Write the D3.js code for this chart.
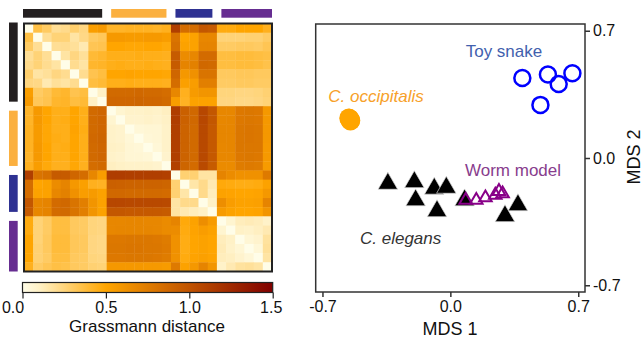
<!DOCTYPE html>
<html>
<head>
<meta charset="utf-8">
<script src="https://cdn.jsdelivr.net/npm/d3@7"></script>
<style>
    body { margin: 0; background: #fff; }
    svg { display: block; font-family: Arial, "Liberation Sans", Helvetica, sans-serif; }
</style>
</head>
<body>
<svg id="chart" width="644" height="339"></svg>
<script>
(function () {
    'use strict';

    // groups along the distance matrix
    var groupNames = ['C. elegans', 'C. occipitalis', 'Toy snake', 'Worm model'];
    var groupSizes = [9, 7, 5, 6];
    var groupColors = ['#231f20', '#fbb040', '#2e3192', '#662d91'];

    // upper triangle of the Grassmann distance matrix, row i holds columns i+1..26
    var distUpper = [
        [0.36, 0.30, 0.20, 0.22, 0.28, 0.24, 0.54, 0.57, 0.42, 0.42, 0.43, 0.43, 0.43, 0.42, 0.44, 1.12, 0.84, 0.84, 0.97, 0.95, 0.47, 0.47, 0.50, 0.50, 0.50, 0.44],
        [0.20, 0.26, 0.26, 0.17, 0.23, 0.30, 0.32, 0.57, 0.57, 0.56, 0.56, 0.57, 0.57, 0.55, 0.80, 0.50, 0.52, 0.68, 0.68, 0.26, 0.26, 0.26, 0.27, 0.27, 0.30],
        [0.20, 0.21, 0.19, 0.14, 0.33, 0.34, 0.50, 0.50, 0.49, 0.49, 0.50, 0.50, 0.48, 0.82, 0.52, 0.52, 0.70, 0.70, 0.30, 0.30, 0.31, 0.31, 0.30, 0.33],
        [0.17, 0.24, 0.19, 0.39, 0.41, 0.45, 0.45, 0.45, 0.46, 0.45, 0.45, 0.44, 0.95, 0.65, 0.68, 0.85, 0.85, 0.37, 0.37, 0.38, 0.38, 0.37, 0.36],
        [0.21, 0.17, 0.41, 0.42, 0.45, 0.46, 0.45, 0.45, 0.46, 0.45, 0.44, 0.95, 0.70, 0.72, 0.87, 0.86, 0.37, 0.37, 0.38, 0.38, 0.37, 0.35],
        [0.21, 0.34, 0.37, 0.50, 0.50, 0.51, 0.50, 0.50, 0.50, 0.49, 0.88, 0.58, 0.62, 0.80, 0.80, 0.31, 0.31, 0.32, 0.32, 0.31, 0.31],
        [0.37, 0.39, 0.45, 0.45, 0.46, 0.45, 0.45, 0.45, 0.44, 0.84, 0.53, 0.55, 0.73, 0.73, 0.30, 0.30, 0.31, 0.31, 0.30, 0.30],
        [0.10, 0.86, 0.86, 0.86, 0.87, 0.86, 0.86, 0.84, 0.68, 0.44, 0.56, 0.60, 0.60, 0.25, 0.25, 0.24, 0.24, 0.25, 0.27],
        [0.88, 0.88, 0.88, 0.89, 0.88, 0.88, 0.86, 0.55, 0.43, 0.52, 0.52, 0.52, 0.24, 0.24, 0.23, 0.23, 0.24, 0.26],
        [0.07, 0.09, 0.09, 0.10, 0.09, 0.11, 1.13, 0.92, 0.87, 1.07, 0.97, 0.68, 0.68, 0.77, 0.78, 0.77, 0.58],
        [0.08, 0.08, 0.09, 0.08, 0.10, 1.13, 0.91, 0.87, 1.07, 0.97, 0.68, 0.69, 0.77, 0.78, 0.77, 0.58],
        [0.05, 0.06, 0.06, 0.09, 1.12, 0.90, 0.86, 1.06, 0.96, 0.69, 0.69, 0.78, 0.79, 0.78, 0.58],
        [0.05, 0.06, 0.09, 1.12, 0.90, 0.86, 1.06, 0.96, 0.69, 0.69, 0.78, 0.79, 0.78, 0.58],
        [0.05, 0.09, 1.12, 0.90, 0.86, 1.06, 0.96, 0.68, 0.69, 0.78, 0.78, 0.78, 0.57],
        [0.08, 1.12, 0.90, 0.86, 1.06, 0.96, 0.68, 0.68, 0.77, 0.78, 0.77, 0.57],
        [1.11, 0.89, 0.85, 1.05, 0.95, 0.66, 0.66, 0.75, 0.76, 0.75, 0.56],
        [0.27, 0.27, 0.17, 0.17, 0.70, 0.65, 0.62, 0.62, 0.62, 0.76],
        [0.16, 0.22, 0.14, 0.48, 0.47, 0.46, 0.46, 0.47, 0.52],
        [0.22, 0.12, 0.52, 0.51, 0.50, 0.50, 0.51, 0.58],
        [0.10, 0.64, 0.55, 0.52, 0.52, 0.53, 0.70],
        [0.56, 0.52, 0.50, 0.50, 0.51, 0.60],
        [0.07, 0.12, 0.13, 0.12, 0.09],
        [0.10, 0.09, 0.11, 0.14],
        [0.06, 0.08, 0.18],
        [0.05, 0.19],
        [0.17],
        []
    ];

    var colorTicks = [0, 0.5, 1.0, 1.5];
    var mdsTicks = [-0.7, 0, 0.7];

    // MDS embedding, one pair of arrays per series
    var elegansMds1 = [-0.342, -0.197, -0.088, -0.022, -0.190, -0.073, 0.078, 0.370, 0.299];
    var elegansMds2 = [-0.141, -0.132, -0.168, -0.163, -0.232, -0.292, -0.232, -0.259, -0.319];
    var occipitalisMds1 = [-0.556, -0.552, -0.548, -0.545, -0.553, -0.550, -0.547];
    var occipitalisMds2 = [0.220, 0.215, 0.212, 0.206, 0.218, 0.210, 0.204];
    var snakeMds1 = [0.394, 0.534, 0.593, 0.668, 0.493];
    var snakeMds2 = [0.440, 0.459, 0.407, 0.466, 0.292];
    var wormMds1 = [0.084, 0.142, 0.192, 0.246, 0.266, 0.286];
    var wormMds2 = [-0.232, -0.232, -0.218, -0.204, -0.183, -0.196];

    var svg = d3.select('#chart');
    var n = d3.sum(groupSizes);

    // full symmetric matrix
    var dist = d3.range(n).map(function () { return d3.range(n).map(function () { return 0; }); });
    distUpper.forEach(function (row, i) {
        row.forEach(function (v, k) {
            var j = i + 1 + k;
            dist[i][j] = v;
            dist[j][i] = v;
        });
    });

    var color = d3.scaleLinear()
        .domain([0, 0.1, 0.5, 1.5])
        .range(['#fffde8', '#fff1c6', '#ffa500', '#800000'])
        .clamp(true);

    // ---------- heatmap ----------
    var hx = d3.scaleBand().domain(d3.range(n)).range([24, 272]);
    var hy = d3.scaleBand().domain(d3.range(n)).range([23.5, 271.5]);

    var cells = [];
    dist.forEach(function (row, i) {
        row.forEach(function (v, j) { cells.push({ i: i, j: j, v: v }); });
    });

    var heat = svg.append('g');
    heat.selectAll('rect.cell')
        .data(cells)
        .enter().append('rect')
        .attr('class', 'cell')
        .attr('x', function (d) { return hx(d.j); })
        .attr('y', function (d) { return hy(d.i); })
        .attr('width', hx.bandwidth() + 0.4)
        .attr('height', hy.bandwidth() + 0.4)
        .attr('fill', function (d) { return color(d.v); });

    heat.append('rect')
        .attr('x', 24).attr('y', 23.5)
        .attr('width', 248).attr('height', 248)
        .attr('fill', 'none')
        .attr('stroke', '#222')
        .attr('stroke-width', 2);

    // group bars along top and left
    var groups = [];
    var start = 0;
    groupSizes.forEach(function (s, g) {
        groups.push({ g: g, first: start, last: start + s - 1 });
        start += s;
    });
    var inset = 4.5;
    function span(scale, d) {
        var a = scale(d.first) + (d.g === 0 ? -1 : inset);
        var b = scale(d.last) + scale.bandwidth() - (d.g === groups.length - 1 ? 0 : inset);
        return [a, b];
    }

    svg.selectAll('rect.topbar')
        .data(groups)
        .enter().append('rect')
        .attr('class', 'topbar')
        .attr('x', function (d) { return span(hx, d)[0]; })
        .attr('width', function (d) { var s = span(hx, d); return s[1] - s[0]; })
        .attr('y', 9)
        .attr('height', 8.7)
        .attr('fill', function (d) { return groupColors[d.g]; });

    svg.selectAll('rect.leftbar')
        .data(groups)
        .enter().append('rect')
        .attr('class', 'leftbar')
        .attr('y', function (d) { return span(hy, d)[0]; })
        .attr('height', function (d) { var s = span(hy, d); return s[1] - s[0]; })
        .attr('x', 9)
        .attr('width', 8.7)
        .attr('fill', function (d) { return groupColors[d.g]; });

    // ---------- colorbar ----------
    var cb = d3.scaleLinear().domain([0, 1.5]).range([22.5, 272.7]);
    var grad = svg.append('defs').append('linearGradient')
        .attr('id', 'cbgrad')
        .attr('x1', '0%').attr('x2', '100%').attr('y1', '0%').attr('y2', '0%');
    d3.range(0, 1.5001, 0.05).forEach(function (v) {
        grad.append('stop')
            .attr('offset', (v / 1.5 * 100) + '%')
            .attr('stop-color', color(v));
    });
    svg.append('rect')
        .attr('x', 22.5).attr('y', 282.5)
        .attr('width', 250.2).attr('height', 10)
        .attr('fill', 'url(#cbgrad)')
        .attr('stroke', '#222')
        .attr('stroke-width', 1.2);

    var cbAxis = svg.append('g')
        .attr('transform', 'translate(0,292.5)')
        .call(d3.axisBottom(cb)
            .tickValues(colorTicks)
            .tickFormat(function (d) { return d.toFixed(1); })
            .tickSize(6)
            .tickPadding(3));
    cbAxis.select('.domain').remove();
    cbAxis.selectAll('line').attr('stroke', '#222').attr('stroke-width', 1.2);
    cbAxis.selectAll('text')
        .attr('font-size', '16px')
        .attr('font-family', null)
        .attr('fill', '#111')
        .attr('dx', function (d, i) { return i === 0 ? -10 : (i === colorTicks.length - 1 ? -2 : 0); });

    svg.append('text')
        .attr('x', 147).attr('y', 332)
        .attr('text-anchor', 'middle')
        .attr('font-size', '17px')
        .attr('fill', '#111')
        .text('Grassmann distance');

    // ---------- MDS scatter ----------
    var sx = d3.scaleLinear().domain([-0.737, 0.737]).range([315.7, 585]);
    var sy = d3.scaleLinear().domain([-0.737, 0.737]).range([292, 24]);

    var xAxis = svg.append('g')
        .attr('transform', 'translate(0,292)')
        .call(d3.axisBottom(sx)
            .tickValues(mdsTicks)
            .tickFormat(function (d) { return d.toFixed(1); })
            .tickSize(5)
            .tickPadding(4));
    var yAxis = svg.append('g')
        .attr('transform', 'translate(585,0)')
        .call(d3.axisRight(sy)
            .tickValues(mdsTicks)
            .tickFormat(function (d) { return d.toFixed(1); })
            .tickSize(5)
            .tickPadding(3));
    [xAxis, yAxis].forEach(function (ax) {
        ax.select('.domain').remove();
        ax.selectAll('line').attr('stroke', '#333').attr('stroke-width', 1.5);
        ax.selectAll('text')
            .attr('font-size', '16px')
            .attr('font-family', null)
            .attr('fill', '#111');
    });

    svg.append('rect')
        .attr('x', sx.range()[0]).attr('y', sy.range()[1])
        .attr('width', sx.range()[1] - sx.range()[0])
        .attr('height', sy.range()[0] - sy.range()[1])
        .attr('fill', 'none')
        .attr('stroke', '#333')
        .attr('stroke-width', 1.5);

    svg.append('text')
        .attr('x', 450).attr('y', 335)
        .attr('text-anchor', 'middle')
        .attr('font-size', '18px')
        .attr('fill', '#111')
        .text('MDS 1');
    svg.append('text')
        .attr('transform', 'translate(640,157) rotate(-90)')
        .attr('text-anchor', 'middle')
        .attr('font-size', '18px')
        .attr('fill', '#111')
        .text('MDS 2');

    function pairs(xs, ys) {
        return xs.map(function (x, i) { return [x, ys[i]]; });
    }

    var plot = svg.append('g');

    plot.selectAll('circle.occ')
        .data(pairs(occipitalisMds1, occipitalisMds2))
        .enter().append('circle')
        .attr('class', 'occ')
        .attr('cx', function (d) { return sx(d[0]); })
        .attr('cy', function (d) { return sy(d[1]); })
        .attr('r', 9.5)
        .attr('fill', '#ffa500');

    plot.selectAll('circle.snake')
        .data(pairs(snakeMds1, snakeMds2))
        .enter().append('circle')
        .attr('class', 'snake')
        .attr('cx', function (d) { return sx(d[0]); })
        .attr('cy', function (d) { return sy(d[1]); })
        .attr('r', 8)
        .attr('fill', 'none')
        .attr('stroke', '#0000ff')
        .attr('stroke-width', 2.5);

    var triBig = d3.symbol().type(d3.symbolTriangle).size(165);
    var triSmall = d3.symbol().type(d3.symbolTriangle).size(68);

    plot.selectAll('path.elegans')
        .data(pairs(elegansMds1, elegansMds2))
        .enter().append('path')
        .attr('class', 'elegans')
        .attr('transform', function (d) { return 'translate(' + sx(d[0]) + ',' + sy(d[1]) + ')'; })
        .attr('d', triBig)
        .attr('fill', '#000')
        .attr('stroke', '#ddd')
        .attr('stroke-width', 0.7);

    plot.selectAll('path.worm')
        .data(pairs(wormMds1, wormMds2))
        .enter().append('path')
        .attr('class', 'worm')
        .attr('transform', function (d) { return 'translate(' + sx(d[0]) + ',' + sy(d[1]) + ')'; })
        .attr('d', triSmall)
        .attr('fill', 'none')
        .attr('stroke', '#880088')
        .attr('stroke-width', 2);

    // series labels
    var labels = [
        { t: 'Toy snake', x: 465.7, y: 57, c: '#4260ad', it: false },
        { t: 'C. occipitalis', x: 328.3, y: 101.7, c: '#f7a12a', it: true },
        { t: 'Worm model', x: 465, y: 176, c: '#883d8d', it: false },
        { t: 'C. elegans', x: 360, y: 243.5, c: '#333', it: true }
    ];
    svg.selectAll('text.series')
        .data(labels)
        .enter().append('text')
        .attr('class', 'series')
        .attr('x', function (d) { return d.x; })
        .attr('y', function (d) { return d.y; })
        .attr('font-size', '17px')
        .attr('font-style', function (d) { return d.it ? 'italic' : 'normal'; })
        .attr('fill', function (d) { return d.c; })
        .text(function (d) { return d.t; });
})();
</script>
</body>
</html>
